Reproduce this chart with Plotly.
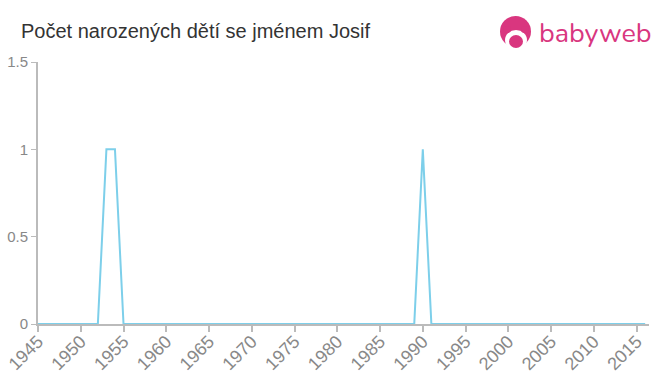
import plotly.graph_objects as go

years = list(range(1945, 2017))
counts = [0] * len(years)
for y in (1953, 1954, 1990):
    counts[years.index(y)] = 1

title_text = "Počet narozených dětí se jménem Josif"
x_ticks = list(range(1945, 2016, 5))
y_ticks = [0, 0.5, 1, 1.5]
y_labels = ["0", "0.5", "1", "1.5"]

W, H = 660, 375
L, R, T, B = 38, 11, 62, 51
pw, ph = W - L - R, H - T - B

def px(x):
    return (x - L) / pw

def py(y):
    return (H - B - y) / ph

fig = go.Figure()
fig.add_trace(go.Scatter(
    x=years, y=counts, mode="lines",
    line=dict(color="#7dcfea", width=2),
    hoverinfo="skip", showlegend=False,
))

pink = "#d9367f"
shapes = [
    dict(type="circle", xref="paper", yref="paper",
         x0=px(500), x1=px(531), y0=py(47), y1=py(16),
         fillcolor=pink, line=dict(width=0)),
    dict(type="circle", xref="paper", yref="paper",
         x0=px(505), x1=px(527), y0=py(50), y1=py(30),
         fillcolor="white", line=dict(width=0)),
    dict(type="circle", xref="paper", yref="paper",
         x0=px(509), x1=px(523), y0=py(48), y1=py(35),
         fillcolor=pink, line=dict(width=0)),
    dict(type="circle", xref="paper", yref="paper",
         x0=px(503), x1=px(511), y0=py(33), y1=py(26),
         fillcolor=pink, line=dict(width=0)),
    dict(type="circle", xref="paper", yref="paper",
         x0=px(521), x1=px(529), y0=py(33), y1=py(26),
         fillcolor=pink, line=dict(width=0)),
]

fig.update_layout(
    width=W, height=H,
    margin=dict(l=L, r=R, t=T, b=B, autoexpand=False),
    paper_bgcolor="white", plot_bgcolor="white",
    font=dict(family="Liberation Sans, Arial, sans-serif", color="#888888", size=15),
    shapes=shapes,
    annotations=[
        dict(text=title_text, xref="paper", yref="paper",
             x=px(19), y=py(31), xanchor="left", yanchor="middle",
             showarrow=False, font=dict(size=20, color="#333333")),
        dict(text="babyweb", xref="paper", yref="paper",
             x=px(537), y=py(33), xanchor="left", yanchor="middle",
             showarrow=False, font=dict(size=27, color=pink,
                                        family="Nunito, Lato, Open Sans, sans-serif")),
    ],
    xaxis=dict(
        range=[1945, 2016.45], tickvals=x_ticks, ticktext=[str(v) for v in x_ticks],
        tickangle=-45, showgrid=False, zeroline=False, automargin=False,
        showline=True, linecolor="#bbbbbb", linewidth=2,
        ticks="outside", ticklen=6, tickcolor="#bbbbbb", tickwidth=2,
        tickfont=dict(size=18, color="#888888"), ticklabelstandoff=-8,
    ),
    yaxis=dict(
        range=[0, 1.5], tickvals=y_ticks, ticktext=y_labels,
        showgrid=False, zeroline=False, automargin=False,
        showline=True, linecolor="#bbbbbb", linewidth=2,
        ticks="outside", ticklen=5, tickcolor="#bbbbbb", tickwidth=1,
        tickfont=dict(size=15, color="#888888"),
    ),
)

fig.write_html("out.html")
